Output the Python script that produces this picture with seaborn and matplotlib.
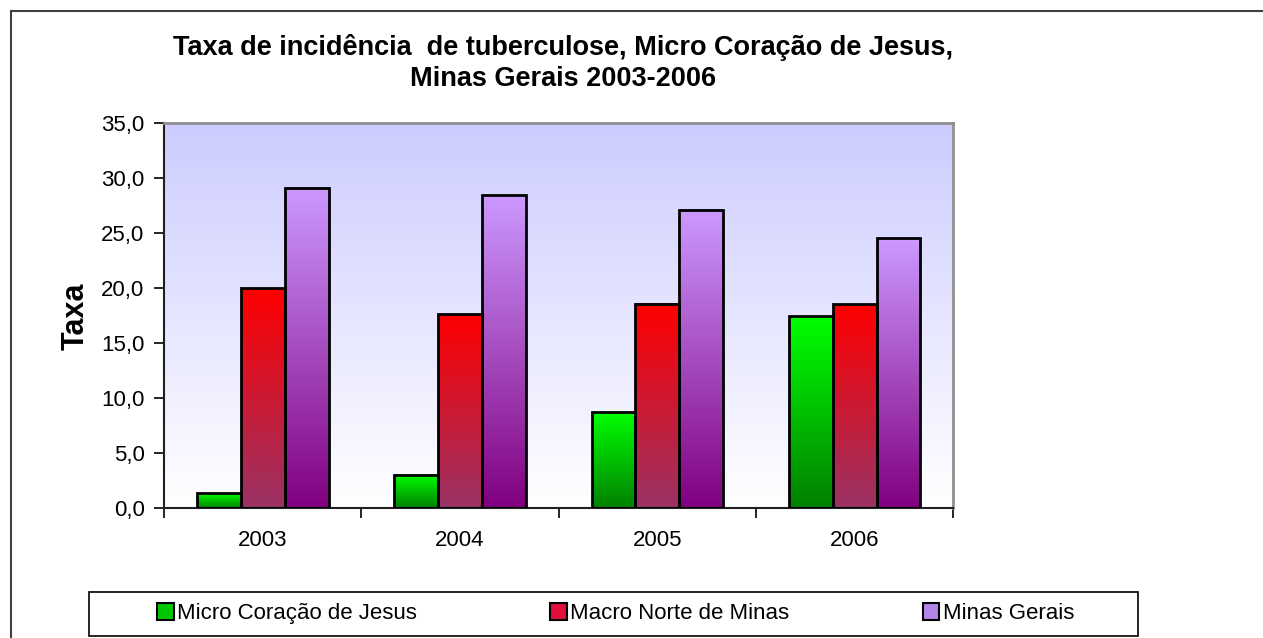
import numpy as np
import pandas as pd
import matplotlib
matplotlib.use("Agg")
import matplotlib.pyplot as plt
import seaborn as sns
from matplotlib.colors import LinearSegmentedColormap
from matplotlib.patches import Patch, Rectangle

# dados
anos = ['2003', '2004', '2005', '2006']
regioes = ['Micro Coração de Jesus', 'Macro Norte de Minas', 'Minas Gerais']
micro = [1.35, 3.0, 8.7, 17.45]
macro = [19.95, 17.6, 18.55, 18.5]
minas = [29.1, 28.4, 27.1, 24.5]
y_ticks = [0, 5, 10, 15, 20, 25, 30, 35]

# cores do degradê (topo -> base) de cada série
cores_topo = ['#00FF00', '#FF0000', '#CC99FF']
cores_base = ['#008000', '#993366', '#800080']
cores_legenda = ['#00C800', '#E0103A', '#B385E6']

sns.set_style('white')
plt.rcParams['font.family'] = ['Liberation Sans', 'DejaVu Sans']
plt.rcParams['text.color'] = 'black'
plt.rcParams['xtick.color'] = 'black'
plt.rcParams['ytick.color'] = 'black'

df = pd.DataFrame({
    'ano': anos * 3,
    'regiao': np.repeat(regioes, len(anos)),
    'taxa': micro + macro + minas,
})

fig = plt.figure(figsize=(12.63, 6.38), dpi=100)
ax = fig.add_axes([0.1299, 0.2042, 0.6249, 0.6035])

sns.barplot(data=df, x='ano', y='taxa', hue='regiao', order=anos,
            hue_order=regioes, width=0.667, gap=0, errorbar=None,
            legend=False, ax=ax)

# fundo da área de plotagem em degradê
grad = np.linspace(0, 1, 256).reshape(-1, 1)
fundo = LinearSegmentedColormap.from_list('fundo', ['#FFFFFF', '#CCCCFF'])
ax.imshow(grad, cmap=fundo, origin='lower', extent=[0, 1, 0, 1],
          transform=ax.transAxes, aspect='auto', zorder=0)

# barras com degradê vertical
for cont, c0, c1 in zip(ax.containers, cores_topo, cores_base):
    cmap = LinearSegmentedColormap.from_list('barra', [c1, c0])
    for bar in cont:
        x0, y0 = bar.get_x(), bar.get_y()
        w, h = bar.get_width(), bar.get_height()
        ax.imshow(grad, cmap=cmap, origin='lower',
                  extent=[x0, x0 + w, y0, y0 + h], aspect='auto', zorder=2)
        bar.set_facecolor('none')
        bar.set_edgecolor('black')
        bar.set_linewidth(2)
        bar.set_zorder(3)

ax.set_xlim(-0.5, len(anos) - 0.5)
ax.set_ylim(0, 35)

ax.set_yticks(y_ticks)
ax.set_yticklabels([f'{v:.1f}'.replace('.', ',') for v in y_ticks])
ax.set_xticks(np.arange(-0.5, len(anos), 1.0))
ax.set_xticklabels([])
ax.set_xticks(range(len(anos)), minor=True)
ax.set_xticklabels(anos, minor=True)

ax.tick_params(axis='y', direction='out', length=7, width=1.2, pad=7,
               labelsize=16, left=True, colors='black')
ax.tick_params(axis='x', which='major', direction='out', length=7,
               width=1.2, bottom=True, colors='black')
ax.tick_params(axis='x', which='minor', length=0, pad=16, labelsize=16,
               colors='black')
ax.set_xlabel('')
ax.set_ylabel('')

for s in ['left', 'bottom']:
    ax.spines[s].set_color('#202020')
    ax.spines[s].set_linewidth(1.5)
for s in ['top', 'right']:
    ax.spines[s].set_color('#909090')
    ax.spines[s].set_linewidth(2)

fig.text(76 / 1263, 1 - 316 / 638, 'Taxa', rotation=90, fontsize=22,
         fontweight='bold', ha='center', va='center', color='black')
fig.text(0.446, 1 - 63 / 638,
         'Taxa de incidência  de tuberculose, Micro Coração de Jesus,\nMinas Gerais 2003-2006',
         ha='center', va='center', fontsize=19.5, fontweight='bold',
         linespacing=1.25, color='black')

# moldura do gráfico e caixa da legenda
fig.patches.append(Rectangle((11 / 1263, -0.5), 2, 1.5 - 10.7 / 638,
                             transform=fig.transFigure, fill=False,
                             edgecolor='#404040', lw=1.5))
fig.patches.append(Rectangle((89 / 1263, 1 - 635.7 / 638), (1138 - 89) / 1263,
                             44 / 638, transform=fig.transFigure, fill=False,
                             edgecolor='black', lw=1.2))

handles = [Patch(facecolor=c, edgecolor='black', lw=1.5) for c in cores_legenda]
fig.legend(handles, regioes, loc='center left',
           bbox_to_anchor=(157 / 1263, 1 - 613.7 / 638), ncol=3,
           frameon=False, fontsize=16, borderpad=0, borderaxespad=0,
           handlelength=0.75, handleheight=0.75, handletextpad=0.15,
           columnspacing=6.0)

fig.savefig('out.png', dpi=100)
